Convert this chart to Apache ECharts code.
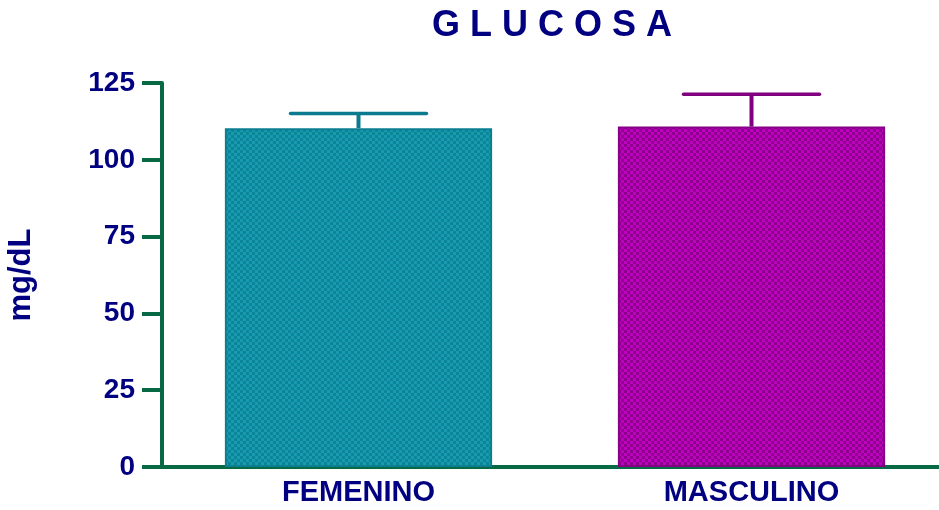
<!DOCTYPE html>
<html>
<head>
<meta charset="utf-8">
<script src="https://cdn.jsdelivr.net/npm/echarts@6/dist/echarts.min.js"></script>
<style>
  html, body { margin: 0; padding: 0; background: #ffffff; }
  #chart { width: 939px; height: 510px; }
</style>
</head>
<body>
<div id="chart"></div>
<script>
// Glucose means by sex with upper error bars
const categories = ['FEMENINO', 'MASCULINO'];
const meanValues = [110.3, 110.8];
const errorValues = [4.8, 10.5];
const yTicks = [0, 25, 50, 75, 100, 125];

const NAVY = '#000080';
const GREEN = '#076a45';
const FONT = 'Liberation Sans, Arial, sans-serif';

// small checkerboard fill used for the bars
function checker(light, dark, cell) {
  const c = document.createElement('canvas');
  c.width = cell * 2; c.height = cell * 2;
  const g = c.getContext('2d');
  g.fillStyle = light; g.fillRect(0, 0, cell * 2, cell * 2);
  g.fillStyle = dark;
  g.fillRect(0, 0, cell, cell);
  g.fillRect(cell, cell, cell, cell);
  return { image: c, repeat: 'repeat' };
}

const fills = [
  checker('#1a9aae', '#0b8598', 3),
  checker('#c000c0', '#8c008c', 3)
];
const borders = ['#0b7f92', '#850085'];
const errColors = ['#0b7a8e', '#800080'];

const chart = echarts.init(document.getElementById('chart'), null, { renderer: 'canvas' });

chart.setOption({
  animation: false,
  title: {
    text: 'G L U C O S A',
    left: 547,
    top: 3,
    textAlign: 'center',
    textStyle: { color: NAVY, fontSize: 36, fontWeight: 'bold', fontFamily: FONT }
  },
  grid: {
    left: 162, top: 83, width: 786, bottom: 43,
    containLabel: false,
    outerBoundsMode: 'none'
  },
  xAxis: {
    type: 'category',
    data: categories,
    axisLine: { show: true, lineStyle: { color: GREEN, width: 4 } },
    axisTick: { show: false },
    axisLabel: { color: NAVY, fontSize: 29, fontWeight: 'bold', margin: 11, fontFamily: FONT },
    splitLine: { show: false }
  },
  yAxis: {
    type: 'value',
    min: yTicks[0],
    max: yTicks[yTicks.length - 1],
    interval: yTicks[1] - yTicks[0],
    name: 'mg/dL',
    nameLocation: 'middle',
    nameRotate: 90,
    nameGap: 125,
    nameTextStyle: { color: NAVY, fontSize: 31, fontWeight: 'bold', fontFamily: FONT },
    axisLine: { show: true, lineStyle: { color: GREEN, width: 4 } },
    axisTick: { show: true, length: 20, lineStyle: { color: GREEN, width: 4 } },
    axisLabel: { color: NAVY, fontSize: 28, fontWeight: 'bold', margin: 27, fontFamily: FONT },
    splitLine: { show: false }
  },
  series: [
    {
      type: 'bar',
      barWidth: '68%',
      data: meanValues.map((v, i) => ({
        value: v,
        itemStyle: { color: fills[i], borderColor: borders[i], borderWidth: 2 }
      })),
      z: 2
    },
    {
      type: 'custom',
      z: 3,
      data: meanValues.map((v, i) => [i, v, v + errorValues[i]]),
      renderItem: function (params, api) {
        const i = api.value(0);
        const base = api.coord([i, api.value(1)]);
        const top = api.coord([i, api.value(2)]);
        const half = api.size([1, 0])[0] * 0.173;
        const color = errColors[params.dataIndex];
        return {
          type: 'group',
          children: [
            { type: 'line', shape: { x1: base[0], y1: base[1], x2: top[0], y2: top[1] },
              style: { stroke: color, lineWidth: 4 } },
            { type: 'line', shape: { x1: top[0] - half, y1: top[1], x2: top[0] + half, y2: top[1] },
              style: { stroke: color, lineWidth: 3.5, lineCap: 'round' } }
          ]
        };
      }
    }
  ]
});
</script>
</body>
</html>
